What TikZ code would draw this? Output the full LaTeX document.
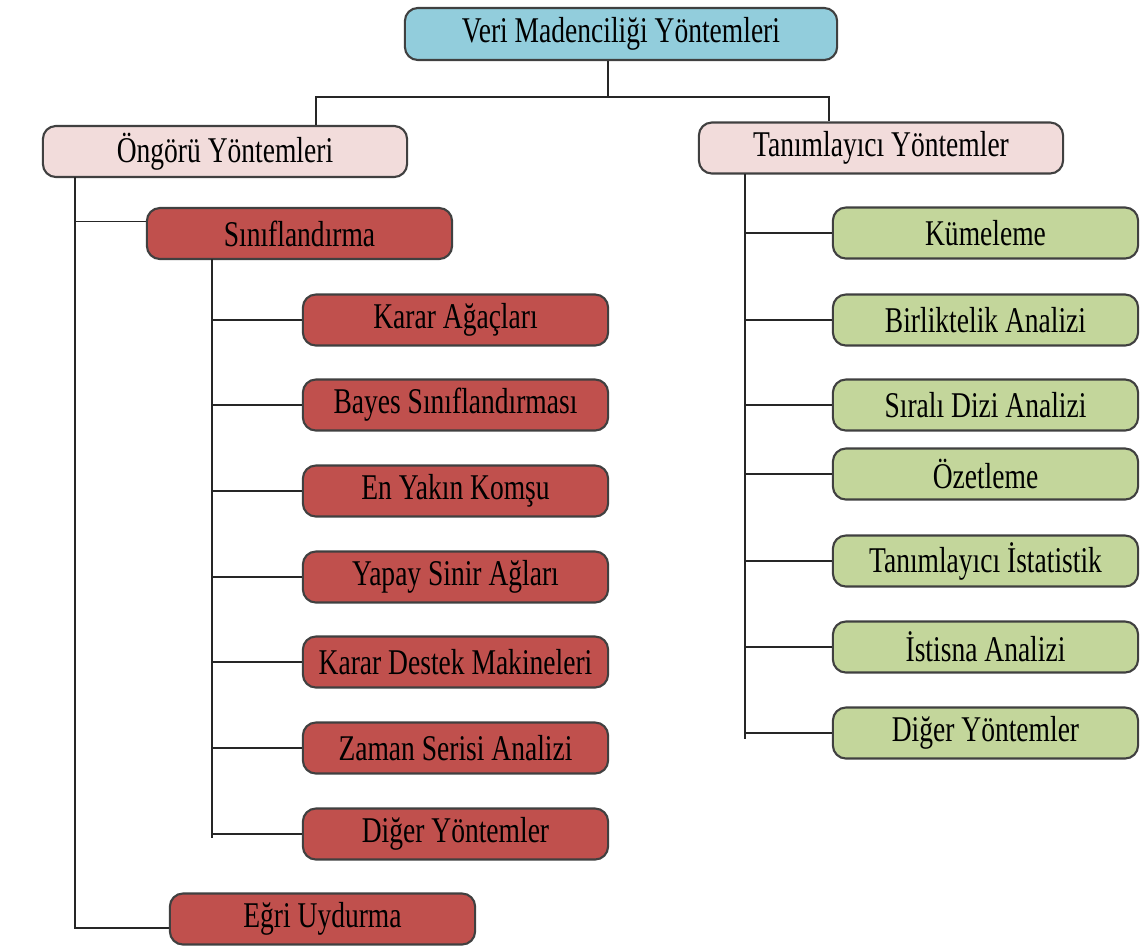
\documentclass[tikz,border=0pt]{standalone}
\usepackage{fontspec}
\setmainfont{Liberation Serif}[FakeStretch=0.76]
\usetikzlibrary{positioning}
\definecolor{topblue}{HTML}{92CDDC}
\definecolor{grouppink}{HTML}{F2DCDB}
\definecolor{methodred}{HTML}{C0504D}
\definecolor{methodgreen}{HTML}{C3D69B}
\tikzset{
    box/.style={
        draw=black!75,
        line width=0.6pt,
        rounded corners=0.13cm,
        minimum height=0.51cm,
        inner sep=0pt,
        font=\fontsize{10.3}{12}\selectfont
    },
    rootbox/.style={box, fill=topblue, minimum width=4.32cm, minimum height=0.52cm},
    groupbox/.style={box, fill=grouppink, minimum width=3.64cm},
    redbox/.style={box, fill=methodred, minimum width=3.05cm},
    greenbox/.style={box, fill=methodgreen, minimum width=3.05cm},
    link/.style={draw=black!85, line width=0.5pt}
}

\begin{document}
\begin{tikzpicture}[x=0.01cm, y=-0.01cm]
    \useasboundingbox (0,0) rectangle (1142,945);
    % main nodes
    \node[rootbox] (root) at (621,34) {Veri Madenciliği Yöntemleri};
    \node[groupbox] (pred) at (225,151.5) {Öngörü Yöntemleri};
    \node[groupbox] (desc) at (881,148) {Tanımlayıcı Yöntemler};
    \node[redbox] (sinif) at (299.5,233.5) {Sınıflandırma};
    \node[redbox] (egri) at (322.5,919) {Eğri Uydurma};
    % bar and spines
    \coordinate (rootdrop) at (608,97);
    \coordinate (barL) at (316,97);
    \coordinate (barR) at (829,97);
    \coordinate (predspine) at (75,177);
    \coordinate (clsspine) at (212,259);
    \coordinate (descspine) at (745,174);
    \draw[link] (rootdrop |- root.south) -- (rootdrop);
    \draw[link] (barL |- pred.north) -- (barL) -- (barR) -- (barR |- desc.north);
    \draw[link] (predspine) |- ([yshift=-0.09cm]egri.west);
    \draw[link] ([yshift=0.12cm]predspine |- sinif.west) -- ([yshift=0.12cm]sinif.west);
    % classification methods
    \foreach \i/\y/\t in {1/320/Karar Ağaçları, 2/405/Bayes Sınıflandırması,
        3/491/En Yakın Komşu, 4/577/Yapay Sinir Ağları,
        5/662/Karar Destek Makineleri, 6/748/Zaman Serisi Analizi,
        7/834/Diğer Yöntemler}{
        \node[redbox] (c\i) at (455.5,\y) {\t};
        \draw[link] (clsspine |- c\i.west) -- (c\i.west);
    }
    \draw[link] (clsspine) -- ([yshift=-0.04cm]clsspine |- c7.west);
    % descriptive methods
    \foreach \i/\y/\t in {1/233/Kümeleme, 2/320/Birliktelik Analizi,
        3/405/Sıralı Dizi Analizi, 4/474/Özetleme,
        5/561/Tanımlayıcı İstatistik, 6/647/İstisna Analizi,
        7/733/Diğer Yöntemler}{
        \node[greenbox] (d\i) at (985.5,\y) {\t};
        \draw[link] (descspine |- d\i.west) -- (d\i.west);
    }
    \draw[link] (descspine) -- ([yshift=-0.06cm]descspine |- d7.west);
\end{tikzpicture}
\end{document}
